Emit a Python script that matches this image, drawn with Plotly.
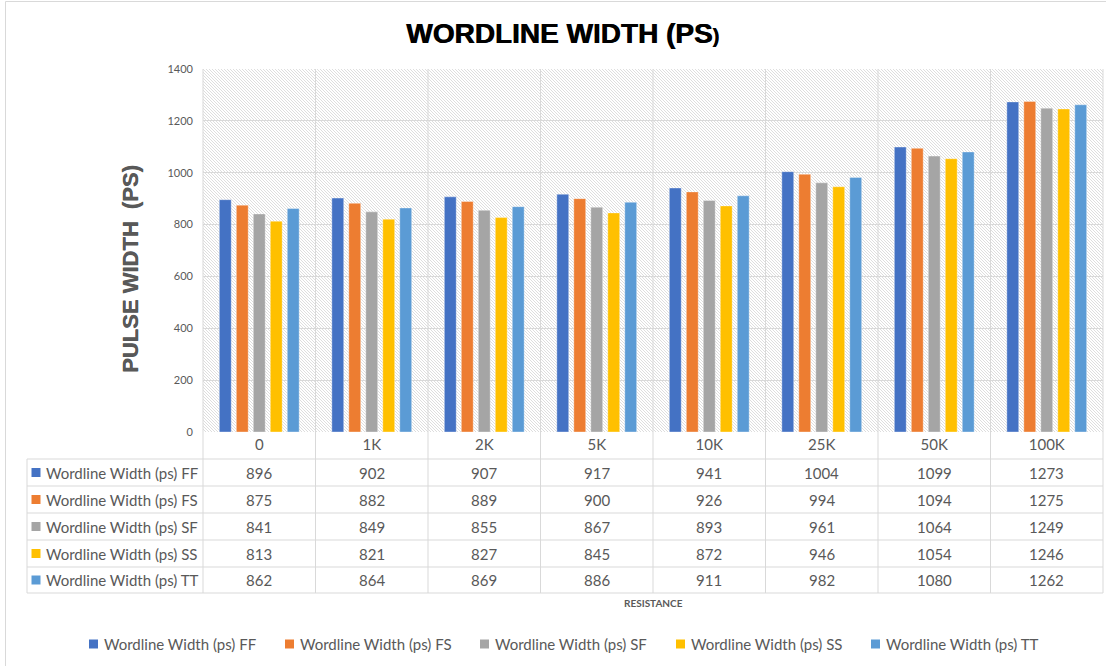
import base64
import plotly.graph_objects as go

W, H = 1106, 666

categories = ["0", "1K", "2K", "5K", "10K", "25K", "50K", "100K"]
series_names = [
    "Wordline Width (ps) FF",
    "Wordline Width (ps) FS",
    "Wordline Width (ps) SF",
    "Wordline Width (ps) SS",
    "Wordline Width (ps) TT",
]
ff = [896, 902, 907, 917, 941, 1004, 1099, 1273]
fs = [875, 882, 889, 900, 926, 994, 1094, 1275]
sf = [841, 849, 855, 867, 893, 961, 1064, 1249]
ss = [813, 821, 827, 845, 872, 946, 1054, 1246]
tt = [862, 864, 869, 886, 911, 982, 1080, 1262]
series_values = [ff, fs, sf, ss, tt]
colors = ["#4472C4", "#ED7D31", "#A5A5A5", "#FFC000", "#5B9BD5"]

y_ticks = [0, 200, 400, 600, 800, 1000, 1200, 1400]

# layout geometry (pixels)
PL, PR, PT, PB = 203, 1103, 69, 432
TABLE_LEFT = 27
ROW_LINES = [459, 486, 513, 540, 567, 593]
GRID = "#d9d9d9"
TXT = "#595959"
BODY_FONT = "Lato"


def px(x):
    return x / W


def py(y):
    return 1 - y / H


fig = go.Figure()
for name, vals, col in zip(series_names, series_values, colors):
    fig.add_trace(go.Bar(
        x=categories, y=vals, name=name,
        marker=dict(color=col, line=dict(color="rgba(255,255,255,0.6)", width=0.6)),
        showlegend=False,
    ))

# hatched plot background as svg image
pw, ph = PR - PL, PB - PT
svg = (
    f'<svg xmlns="http://www.w3.org/2000/svg" width="{pw}" height="{ph}">'
    '<defs><pattern id="p" width="3" height="3" patternUnits="userSpaceOnUse">'
    '<rect width="3" height="3" fill="#ffffff"/>'
    '<path d="M-1,-1 L4,4 M2,-1 L4,1 M-1,2 L1,4" stroke="#d6d6d6" stroke-width="0.8"/>'
    '</pattern></defs>'
    f'<rect width="{pw}" height="{ph}" fill="url(#p)"/></svg>'
)
src = "data:image/svg+xml;base64," + base64.b64encode(svg.encode()).decode()

shapes = []
# outer chart border
shapes.append(dict(type="line", xref="paper", yref="paper", x0=px(5.5), x1=px(5.5), y0=py(1.5), y1=py(666),
                   line=dict(color="#d9d9d9", width=1)))
shapes.append(dict(type="line", xref="paper", yref="paper", x0=px(5.5), x1=px(1106), y0=py(1.5), y1=py(1.5),
                   line=dict(color="#d9d9d9", width=1)))
# column lines
colw = (PR - PL) / len(categories)
for k in range(len(categories) + 1):
    xx = PL + k * colw
    shapes.append(dict(type="line", xref="paper", yref="paper", x0=px(xx), x1=px(xx), y0=py(PT), y1=py(ROW_LINES[-1]),
                       line=dict(color=GRID, width=1), layer="below"))
# left column vertical line
shapes.append(dict(type="line", xref="paper", yref="paper", x0=px(TABLE_LEFT), x1=px(TABLE_LEFT),
                   y0=py(ROW_LINES[0]), y1=py(ROW_LINES[-1]), line=dict(color=GRID, width=1), layer="below"))
# row lines
for yy in ROW_LINES:
    shapes.append(dict(type="line", xref="paper", yref="paper", x0=px(TABLE_LEFT), x1=px(PR), y0=py(yy), y1=py(yy),
                       line=dict(color=GRID, width=1), layer="below"))

annotations = []
# table rows
for i, (name, vals, col) in enumerate(zip(series_names, series_values, colors)):
    top, bot = ROW_LINES[i], ROW_LINES[i + 1]
    cy = (top + bot) / 2
    shapes.append(dict(type="rect", xref="paper", yref="paper", x0=px(31.5), x1=px(40.5), y0=py(cy - 4.5), y1=py(cy + 4.5),
                       fillcolor=col, line=dict(width=0)))
    annotations.append(dict(xref="paper", yref="paper", x=px(44), y=py(cy), xanchor="left", yanchor="middle",
                            text=name, showarrow=False, font=dict(family=BODY_FONT, size=15, color=TXT)))
    for c, v in zip(categories, vals):
        annotations.append(dict(xref="x", yref="paper", x=c, y=py(cy), xanchor="center", yanchor="middle",
                                text=str(v), showarrow=False, font=dict(family=BODY_FONT, size=15, color=TXT)))

# bottom legend
leg_x = [89, 285, 480, 676, 871]
leg_y = 644
for name, col, lx in zip(series_names, colors, leg_x):
    shapes.append(dict(type="rect", xref="paper", yref="paper", x0=px(lx), x1=px(lx + 9), y0=py(leg_y - 4.5),
                       y1=py(leg_y + 4.5), fillcolor=col, line=dict(width=0)))
    annotations.append(dict(xref="paper", yref="paper", x=px(lx + 13), y=py(leg_y), xanchor="left", yanchor="middle",
                            text=name, showarrow=False, font=dict(family=BODY_FONT, size=15, color=TXT)))

# axis titles
annotations.append(dict(xref="paper", yref="paper", x=px(653), y=py(603), xanchor="center", yanchor="middle",
                        text="<b>RESISTANCE</b>", showarrow=False, font=dict(family=BODY_FONT, size=10, color=TXT)))
annotations.append(dict(xref="paper", yref="paper", x=px(131), y=py(269), xanchor="center", yanchor="middle",
                        text="<b>PULSE WIDTH  (PS)</b>", textangle=-90, showarrow=False,
                        font=dict(family="Liberation Sans", size=22, color=TXT,
                                  shadow="0.5px 0 0 #595959")))
# title
annotations.append(dict(xref="paper", yref="paper", x=px(562), y=py(33), xanchor="center", yanchor="middle",
                        text="<b>WORDLINE WIDTH (PS<span style='font-size:20px'>)</span></b>", showarrow=False,
                        font=dict(family="Liberation Sans", size=28, color="#000000",
                                  shadow="0.7px 0 0 #000000")))

fig.update_layout(
    width=W, height=H, autosize=False,
    margin=dict(l=0, r=0, t=0, b=0, pad=0, autoexpand=False),
    paper_bgcolor="white", plot_bgcolor="rgba(0,0,0,0)",
    barmode="group", bargap=0.245, bargroupgap=0.3,
    showlegend=False,
    shapes=shapes, annotations=annotations,
    images=[dict(source=src, xref="paper", yref="paper", x=px(PL), y=py(PT), sizex=px(PR) - px(PL),
                 sizey=py(PT) - py(PB), xanchor="left", yanchor="top", sizing="stretch", layer="below")],
    xaxis=dict(domain=[px(PL), px(PR)], type="category", categoryorder="array", categoryarray=categories,
               range=[-0.5, len(categories) - 0.5], showgrid=False, zeroline=False, showline=False,
               automargin=False,
               tickfont=dict(family=BODY_FONT, size=15, color=TXT), ticks="", ticklabelstandoff=2),
    yaxis=dict(domain=[py(PB), py(PT)], range=[0, 1400], tickvals=y_ticks, showgrid=True, gridcolor=GRID,
               gridwidth=1, zeroline=False, showline=False, ticks="", ticklabelstandoff=9, automargin=False,
               tickfont=dict(family=BODY_FONT, size=11, color=TXT)),
)

fig.write_html("out.html")
